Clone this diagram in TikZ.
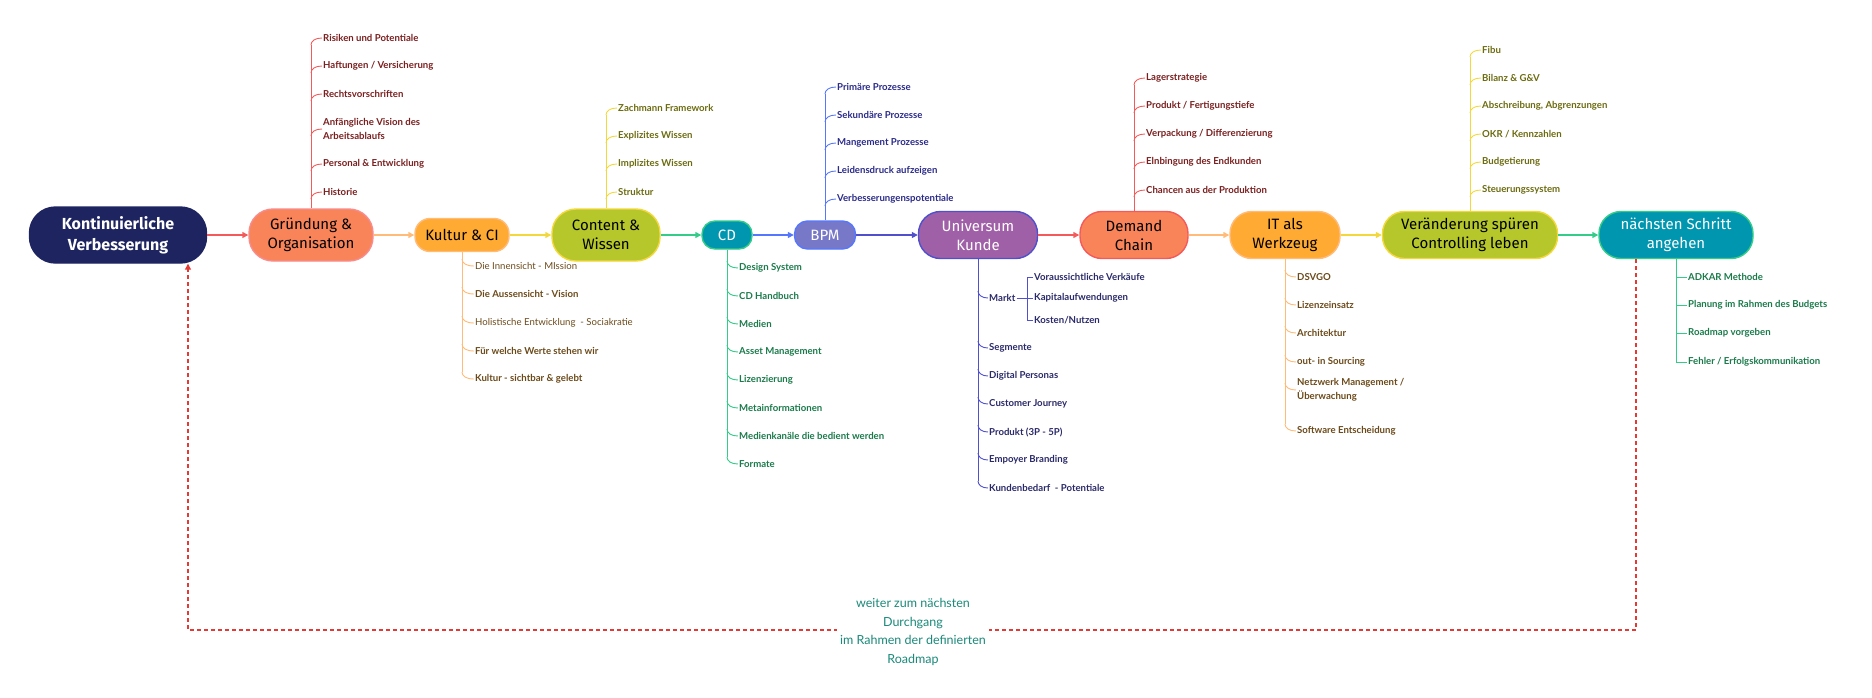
\documentclass[tikz,border=0pt]{standalone}
\usepackage{fontspec}
\setmainfont{Lato}
\newfontfamily\nodef{Fira Sans}
\usetikzlibrary{arrows.meta}
\definecolor{navy}{HTML}{1E2460}
\definecolor{coral}{HTML}{F9845A}
\definecolor{redl}{HTML}{F55A5A}
\definecolor{redt}{HTML}{7A1F1F}
\definecolor{orf}{HTML}{FFAA33}
\definecolor{orl}{HTML}{FFBB77}
\definecolor{ort}{HTML}{6B4A1A}
\definecolor{ortl}{HTML}{8A6A4A}
\definecolor{ygf}{HTML}{B5C72A}
\definecolor{yel}{HTML}{F2D83A}
\definecolor{olt}{HTML}{6B6B10}
\definecolor{teal}{HTML}{0096B0}
\definecolor{grl}{HTML}{33CC88}
\definecolor{grt}{HTML}{1A7A4A}
\definecolor{bpmf}{HTML}{7878C8}
\definecolor{bll}{HTML}{5577FF}
\definecolor{blt}{HTML}{2A2A8A}
\definecolor{unif}{HTML}{A060A8}
\definecolor{unil}{HTML}{5050CC}
\definecolor{unit}{HTML}{2A2A6A}
\definecolor{dred}{HTML}{E53935}
\definecolor{labt}{HTML}{1A8A7A}
\tikzset{
  x=1pt,y=-1pt,
  mn/.style={draw, line width=1.4pt, align=center, inner sep=0pt,
    font=\nodef\fontsize{15}{19}\selectfont},
  it/.style={anchor=west, inner sep=1pt, align=left,
    font=\bfseries\fontsize{9.6}{14}\selectfont},
  itl/.style={it, font=\fontsize{9.6}{14}\selectfont},
  br/.style={line width=0.9pt},
  ar/.style={line width=1.4pt, -{Triangle[length=6pt,width=6pt]}},
}
\begin{document}
\begin{tikzpicture}
\useasboundingbox (0,0) rectangle (1872,697);
% main nodes
\node[mn, fill=navy, draw=navy, text=white, minimum width=177pt, minimum height=56pt, rounded corners=26pt, font=\nodef\bfseries\fontsize{16}{21}\selectfont] (kv) at (118,235) {Kontinuierliche\\Verbesserung};
\node[mn, fill=coral, draw=redl!70, minimum width=124pt, minimum height=52pt, rounded corners=24pt] (gr) at (311,235) {Gründung \&\\Organisation};
\node[mn, fill=orf, draw=orl, minimum width=94pt, minimum height=33pt, rounded corners=15pt] (ku) at (462,235) {Kultur \& CI};
\node[mn, fill=ygf, draw=yel, minimum width=108pt, minimum height=52pt, rounded corners=24pt] (co) at (606,235) {Content \&\\Wissen};
\node[mn, fill=teal, draw=grl, text=white, minimum width=50pt, minimum height=28pt, rounded corners=13pt] (cd) at (727,235) {CD};
\node[mn, fill=bpmf, draw=bll, text=white, minimum width=61pt, minimum height=28pt, rounded corners=13pt] (bpm) at (825,235) {BPM};
\node[mn, fill=unif, draw=unil, text=white, minimum width=119pt, minimum height=47pt, rounded corners=22pt] (uk) at (978,235) {Universum\\Kunde};
\node[mn, fill=coral, draw=redl, minimum width=108pt, minimum height=47pt, rounded corners=22pt] (dc) at (1134,235) {Demand\\Chain};
\node[mn, fill=orf, draw=orl, minimum width=110pt, minimum height=47pt, rounded corners=22pt] (itw) at (1285,235) {IT als\\Werkzeug};
\node[mn, fill=ygf, draw=yel, minimum width=175pt, minimum height=47pt, rounded corners=22pt] (vc) at (1470,235) {Veränderung spüren\\Controlling leben};
\node[mn, fill=teal, draw=grl, text=white, minimum width=154pt, minimum height=47pt, rounded corners=22pt] (nx) at (1676,235) {nächsten Schritt\\angehen};
% main arrows
\draw[ar, redl] (kv) -- (gr);
\draw[ar, orl] (gr) -- (ku);
\draw[ar, yel] (ku) -- (co);
\draw[ar, grl] (co) -- (cd);
\draw[ar, bll] (cd) -- (bpm);
\draw[ar, unil] (bpm) -- (uk);
\draw[ar, redl] (uk) -- (dc);
\draw[ar, orl] (dc) -- (itw);
\draw[ar, yel] (itw) -- (vc);
\draw[ar, grl] (vc) -- (nx);
% upward branches
\draw[br, redl] (gr.north) -- (311,45);
\foreach \y/\t [count=\i] in {38/{Risiken und Potentiale}, 66/{Haftungen / Versicherung}, 94/{Rechtsvorschriften}, 129/{Anfängliche Vision des\\Arbeitsablaufs}, 164/{Personal \& Entwicklung}, 192/{Historie}}{
  \node[it, text=redt] (g\i) at (322,\y) {\t};
  \draw[br, redl] (311,\y+7) .. controls (311,\y+3) and (315,\y) .. (g\i.west);
}
\draw[br, yel] (co.north) -- (606,115);
\foreach \y/\t [count=\i] in {108/{Zachmann Framework}, 136/{Explizites Wissen}, 164/{Implizites Wissen}, 192/{Struktur}}{
  \node[it, text=olt] (c\i) at (617,\y) {\t};
  \draw[br, yel] (606,\y+7) .. controls (606,\y+3) and (610,\y) .. (c\i.west);
}
\draw[br, bll] (bpm.north) -- (825,94);
\foreach \y/\t [count=\i] in {87/{Primäre Prozesse}, 115/{Sekundäre Prozesse}, 143/{Mangement Prozesse}, 171/{Leidensdruck aufzeigen}, 199/{Verbesserungenspotentiale}}{
  \node[it, text=blt] (b\i) at (836,\y) {\t};
  \draw[br, bll] (825,\y+7) .. controls (825,\y+3) and (829,\y) .. (b\i.west);
}
\draw[br, redl] (dc.north) -- (1134,85);
\foreach \y/\t [count=\i] in {78/{Lagerstrategie}, 106/{Produkt / Fertigungstiefe}, 134/{Verpackung / Differenzierung}, 162/{Elnbingung des Endkunden}, 190/{Chancen aus der Produktion}}{
  \node[it, text=redt] (d\i) at (1145,\y) {\t};
  \draw[br, redl] (1134,\y+7) .. controls (1134,\y+3) and (1138,\y) .. (d\i.west);
}
\draw[br, yel] (vc.north) -- (1470,57);
\foreach \y/\t [count=\i] in {50/{Fibu}, 78/{Bilanz \& G\&V}, 106/{Abschreibung, Abgrenzungen}, 134/{OKR / Kennzahlen}, 162/{Budgetierung}, 190/{Steuerungssystem}}{
  \node[it, text=olt] (v\i) at (1481,\y) {\t};
  \draw[br, yel] (1470,\y+7) .. controls (1470,\y+3) and (1474,\y) .. (v\i.west);
}
% downward branches
\draw[br, orl] (ku.south) -- (462,372);
\foreach \y/\t/\s [count=\i] in {266/{Die Innensicht - MIssion}/itl, 294/{Die Aussensicht - Vision}/it, 323/{Holistische Entwicklung \ - Sociakratie}/itl, 351/{Für welche Werte stehen wir}/it, 379/{Kultur - sichtbar \& gelebt}/it}{
  \node[\s, text=ort] (k\i) at (474,\y) {\t};
  \draw[br, orl] (462,\y-7) .. controls (462,\y-3) and (466,\y) .. (k\i.west);
}
\draw[br, grl] (cd.south) -- (727,457);
\foreach \y/\t [count=\i] in {268/{Design System}, 296/{CD Handbuch}, 324/{Medien}, 352/{Asset Management}, 380/{Lizenzierung}, 408/{Metainformationen}, 436/{Medienkanäle die bedient werden}, 464/{Formate}}{
  \node[it, text=grt] (cdi\i) at (738,\y) {\t};
  \draw[br, grl] (727,\y-7) .. controls (727,\y-3) and (731,\y) .. (cdi\i.west);
}
\draw[br, unil] (uk.south) -- (978,481);
\foreach \y/\t [count=\i] in {298/{Markt}, 348/{Segmente}, 376/{Digital Personas}, 404/{Customer Journey}, 432/{Produkt (3P - 5P)}, 460/{Empoyer Branding}, 488/{Kundenbedarf \ - Potentiale}}{
  \node[it, text=unit] (u\i) at (988,\y) {\t};
  \draw[br, unil] (978,\y-7) .. controls (978,\y-3) and (982,\y) .. (u\i.west);
}
\coordinate (mk) at (1027,298);
\draw[br, unil] (u1.east) -- (mk);
\draw[br, unil] (1027,277) -- (1027,320);
\foreach \y/\t [count=\i] in {277/{Voraussichtliche Verkäufe}, 298/{Kapitalaufwendungen}, 320/{Kosten/Nutzen}}{
  \node[it, text=unit] (m\i) at (1033,\y) {\t};
  \draw[br, unil] (1027,\y) -- (m\i.west);
}
\draw[br, orl] (itw.south) -- (1285,424);
\foreach \y/\t [count=\i] in {277/{DSVGO}, 305/{Lizenzeinsatz}, 333/{Architektur}, 362/{out- in Sourcing}, 390/{Netzwerk Management /\\Überwachung}, 431/{Software Entscheidung}}{
  \node[it, text=ort] (t\i) at (1296,\y) {\t};
  \draw[br, orl] (1285,\y-7) .. controls (1285,\y-3) and (1289,\y) .. (t\i.west);
}
\draw[br, grl] (nx.south) -- (1676,362);
\foreach \y/\t [count=\i] in {277/{ADKAR Methode}, 305/{Planung im Rahmen des Budgets}, 333/{Roadmap vorgeben}, 362/{Fehler / Erfolgskommunikation}}{
  \node[it, text=grt] (n\i) at (1687,\y) {\t};
  \draw[br, grl] (1676,\y) -- (n\i.west);
}
% feedback loop
\coordinate (d1) at (1636,630);
\coordinate (d2) at (188,630);
\draw[dred, line width=1.2pt, dash pattern=on 4pt off 3pt, -{Triangle[length=6pt,width=6pt]}] (nx.south -| d1) -- (d1) -- (d2) -- (kv.south -| d2);
\node[fill=white, text=labt, align=center, inner sep=3pt, font=\fontsize{12.5}{18.5}\selectfont] (lab) at (913,632) {weiter zum nächsten\\Durchgang\\im Rahmen der definierten\\Roadmap};
\end{tikzpicture}
\end{document}
